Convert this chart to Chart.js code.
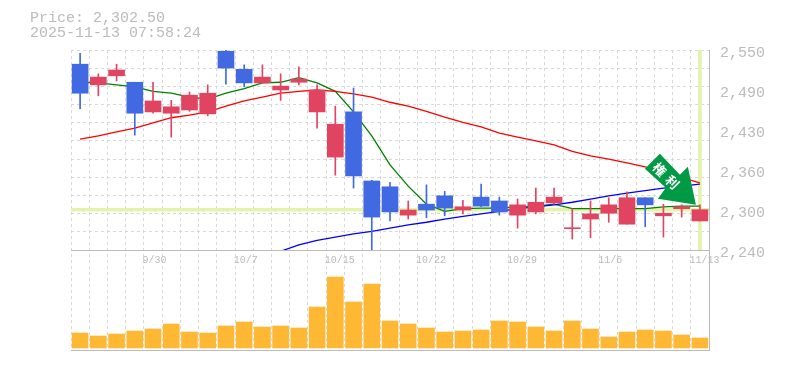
<!DOCTYPE html>
<html>
<head>
<meta charset="utf-8">
<script src="https://cdn.jsdelivr.net/npm/chart.js@4"></script>
<style>
  html, body { margin: 0; padding: 0; background: #fff; }
  #wrap { position: relative; width: 785px; height: 370px; }
  #title { position: absolute; left: 30px; top: 11px; font: 15px/15px "Liberation Mono", monospace; color: #bbb; white-space: pre; }
</style>
</head>
<body>
<div id="wrap">
  <canvas id="stock" width="785" height="370"></canvas>
  <div id="title">Price: 2,302.50
2025-11-13 07:58:24</div>
</div>
<script>
const dates = ['9/24','9/25','9/26','9/29','9/30','10/1','10/2','10/3','10/6','10/7','10/8','10/9','10/10','10/14','10/15','10/16','10/17','10/20','10/21','10/22','10/23','10/24','10/27','10/28','10/29','10/30','10/31','11/4','11/5','11/6','11/7','11/10','11/11','11/12','11/13'];
const shownDates = ['9/30','10/7','10/15','10/22','10/29','11/6','11/13'];

const opens  = [2528,2496,2510,2500,2454,2452,2457,2451,2548,2520,2499,2488,2500,2454,2384,2454,2347,2338,2294,2311,2324,2302,2322,2316,2294,2299,2313,2273,2288,2297,2280,2321,2293,2304,2285];
const highs  = [2545,2513,2528,2500,2500,2472,2485,2496,2550,2527,2527,2513,2524,2496,2463,2491,2348,2345,2316,2341,2331,2317,2342,2322,2319,2336,2336,2304,2316,2321,2330,2321,2311,2310,2310];
const lows   = [2459,2479,2502,2418,2452,2415,2455,2448,2497,2493,2499,2472,2496,2429,2356,2336,2240,2285,2288,2290,2293,2296,2307,2294,2274,2296,2311,2257,2259,2283,2280,2276,2260,2291,2285];
const closes = [2483,2508,2519,2452,2471,2462,2480,2483,2522,2499,2508,2494,2505,2488,2435,2355,2291,2299,2302,2302,2305,2307,2308,2299,2310,2314,2322,2273.5,2296,2310,2321,2310,2297,2307,2302.5];
const volumes = [150,120,140,170,190,240,160,150,220,260,210,220,200,410,710,460,640,270,240,200,160,170,180,270,260,210,170,270,190,110,160,180,170,130,100];

const ma5  = [2500,2499,2496,2493,2486,2483,2477,2474,2483,2490,2499,2500,2507,2499,2486,2454,2417,2372,2339,2311,2300,2304,2305,2305,2307,2308,2311,2304,2304,2304,2304,2304,2307,2308,2308];
const ma25 = [2412,2417,2423,2429,2437,2445,2449,2454,2463,2471,2477,2483,2486,2488,2486,2482,2477,2469,2463,2455,2446,2438,2431,2421,2415,2409,2403,2393,2386,2381,2375,2369,2361,2352,2344];
const ma75 = [null,null,null,null,null,null,null,null,null,null,null,2238,2248,2255,2260,2265,2269,2274,2279,2283,2288,2292,2296,2300,2304,2307,2310,2314,2319,2324,2328,2332,2336,2339,2342];

const lastPrice = 2302.5;
const priceMin = 2240;
const priceMax = 2550;
const gridCount = 11;
const priceTicks = ['2,550','2,490','2,430','2,360','2,300','2,240'];

const upColor = '#e04460';
const downColor = '#4169e1';
const markColor = '#e3f3ab';
const axisColor = '#bbb';
const gridColor = '#d8d8d8';

function candleColors() {
  return opens.map((o, i) => closes[i] >= o ? upColor : downColor);
}

// green badge, anchored to the last candle
const badge = {
  id: 'badge',
  afterDatasetsDraw(chart) {
    const ctx = chart.ctx;
    const tipX = chart.scales.x.getPixelForValue(dates.length - 1) - 4;
    const tipY = chart.scales.y.getPixelForValue(highs[highs.length - 1]);
    const outline = [[-36,-51],[-51,-36],[-30,-17],[-38,-6],[0,0],[-8,-38],[-16,-30]];
    ctx.save();
    ctx.translate(tipX, tipY);
    ctx.beginPath();
    outline.forEach((p, i) => i ? ctx.lineTo(p[0], p[1]) : ctx.moveTo(p[0], p[1]));
    ctx.closePath();
    ctx.fillStyle = '#009944';
    ctx.fill();
    ctx.translate(-30, -29);
    ctx.rotate(Math.PI / 4);
    ctx.fillStyle = '#fff';
    ctx.font = 'bold 13px "Noto Sans CJK JP"';
    ctx.textAlign = 'center';
    ctx.textBaseline = 'middle';
    ctx.fillText('権', -9, 0);
    ctx.fillText('利', 9, 0);
    ctx.restore();
  }
};

new Chart(document.getElementById('stock'), {
  data: {
    labels: dates,
    datasets: [
      { type: 'bar', yAxisID: 'y', order: 6, data: dates.map((d, i) => i === dates.length - 1 ? [priceMin, priceMax] : null), backgroundColor: markColor, barThickness: 3, grouped: false },
      { type: 'line', yAxisID: 'y', order: 5, data: ma5, borderColor: '#008000', borderWidth: 1.3, pointRadius: 0 },
      { type: 'line', yAxisID: 'y', order: 4, data: ma25, borderColor: '#ff0000', borderWidth: 1.3, pointRadius: 0 },
      { type: 'line', yAxisID: 'y', order: 3, data: ma75, borderColor: '#0000ff', borderWidth: 1.3, pointRadius: 0 },
      { type: 'bar', yAxisID: 'y', order: 2, data: lows.map((l, i) => [l, highs[i]]), backgroundColor: candleColors(), barThickness: 1, grouped: false },
      { type: 'bar', yAxisID: 'y', order: 1, data: opens.map((o, i) => [o, closes[i]]), backgroundColor: candleColors(), barThickness: 16, minBarLength: 1, grouped: false },
      { type: 'bar', yAxisID: 'v', order: 1, data: volumes, backgroundColor: '#ffb833', barThickness: 16, grouped: false }
    ]
  },
  options: {
    responsive: false,
    animation: false,
    layout: { padding: { left: 71, top: 50, right: 0, bottom: 20 } },
    plugins: { legend: { display: false }, tooltip: { enabled: false } },
    scales: {
      x: {
        position: { y: priceMin },
        offset: true,
        grid: { offset: true, color: gridColor, lineWidth: 1, drawTicks: false },
        border: { dash: [3, 3], display: true, color: axisColor },
        ticks: {
          autoSkip: false, maxRotation: 0, align: 'start', labelOffset: -10.5, padding: 4,
          color: axisColor, font: { family: '"Liberation Mono"', size: 10 },
          callback(value) { const d = dates[value]; return shownDates.includes(d) ? d : ''; }
        }
      },
      y: {
        position: 'right', stack: 'panels', stackWeight: 2, min: priceMin, max: priceMax,
        afterBuildTicks(scale) {
          const ticks = [];
          for (let i = 0; i <= gridCount; i++) ticks.push({ value: priceMax - i * (priceMax - priceMin) / gridCount, grid: true });
          priceTicks.forEach((t, i) => ticks.push({ value: priceMax - i * (priceMax - priceMin) / (priceTicks.length - 1), text: t }));
          ticks.push({ value: lastPrice, last: true });
          scale.ticks = ticks;
        },
        grid: {
          drawTicks: false,
          color(c) { return c.tick.last ? markColor : c.tick.grid ? gridColor : 'rgba(0,0,0,0)'; },
          lineWidth(c) { return c.tick.last ? 3.5 : 1; }
        },
        border: { dash(c) { return c.tick && c.tick.last ? [] : [3, 3]; }, color: axisColor },
        ticks: {
          autoSkip: false,
          color: axisColor, font: { family: '"Liberation Mono"', size: 15 }, padding: 11, labelOffset: 3,
          callback(value, index, ticks) { return ticks[index].text || ''; }
        },
        afterFit(scale) { scale.width = 76; }
      },
      v: {
        position: 'right', stack: 'panels', stackWeight: 1, min: -20, max: 980,
        afterBuildTicks(scale) { scale.ticks = [{ value: -20 }]; },
        grid: { color: axisColor, drawTicks: false },
        border: { color: axisColor },
        ticks: { display: false },
        afterFit(scale) { scale.width = 76; }
      }
    }
  },
  plugins: [badge]
});
</script>
</body>
</html>
